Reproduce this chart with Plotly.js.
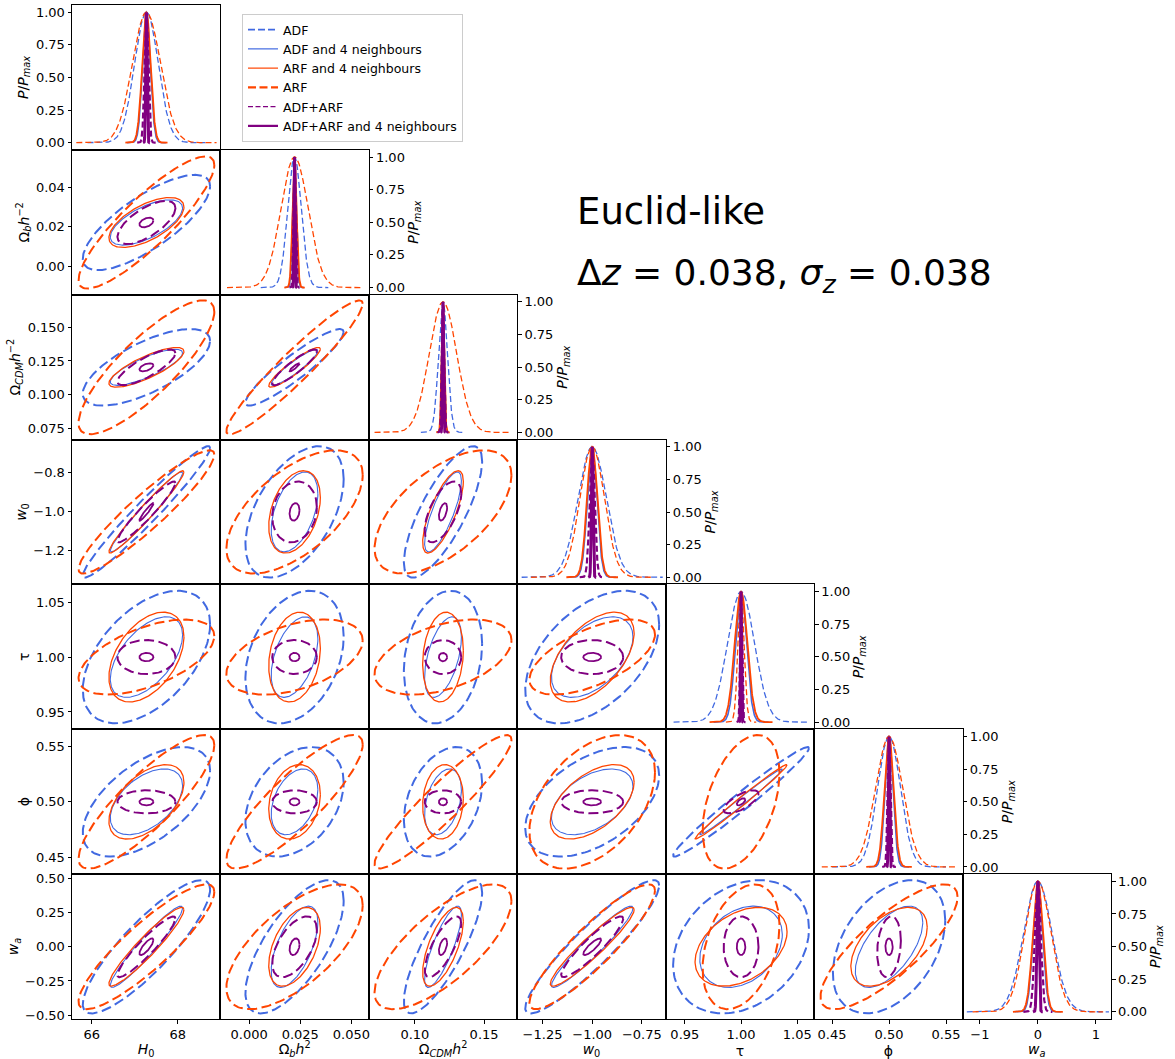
<!DOCTYPE html>
<html><head><meta charset="utf-8">
<script src="https://cdn.plot.ly/plotly-3.0.1.min.js"></script>
<style>body{margin:0;background:#fff}#chart{width:1175px;height:1059px}</style>
</head><body><div id="chart"></div>
<script>
// ---------------- DATA ----------------
const paramNames = ['H0', 'Omega_b h^2', 'Omega_CDM h^2', 'w0', 'tau', 'phi', 'wa'];
const fiducial = [67.27, 0.0222, 0.1203, -1.0, 1.0, 0.5, 0.0];
const caseNames = ['ADF', 'ADF and 4 neighbours', 'ARF and 4 neighbours', 'ARF', 'ADF+ARF', 'ADF+ARF and 4 neighbours'];

// 1D gaussian widths (per parameter, order as paramNames)
const sigADF  = [0.274, 0.0033, 0.0032, 0.071, 0.0120, 0.0100, 0.245];
const sigADFn = [0.090, 0.0009, 0.0009, 0.024, 0.0049, 0.0035, 0.080];
const sigARFn = [0.098, 0.0010, 0.00097, 0.026, 0.0056, 0.0040, 0.086];
const sigARF  = [0.326, 0.0066, 0.0099, 0.0615, 0.0027, 0.0118, 0.225];
const sigAA   = [0.043, 0.0005, 0.0008, 0.0126, 0.0008, 0.0012, 0.050];
const sigAAn  = [0.016, 0.00025, 0.0004, 0.004, 0.0004, 0.0005, 0.017];

// 2D contour half-extents (per parameter)
const extADF  = [1.48, 0.0240, 0.0283, 0.337, 0.0604, 0.0493, 0.487];
const extADFn = [0.84, 0.0114, 0.0133, 0.205, 0.0367, 0.0296, 0.297];
const extARFn = [0.872, 0.0126, 0.0147, 0.211, 0.0409, 0.0335, 0.288];
const extARF  = [1.578, 0.0333, 0.0495, 0.316, 0.0342, 0.0601, 0.456];
const extAA   = [0.674, 0.0109, 0.0132, 0.156, 0.0155, 0.0104, 0.222];
const extAAn  = [0.163, 0.00244, 0.0030, 0.045, 0.0038, 0.0032, 0.061];

// parameter pairs (x, y) and correlation coefficients per case
const pairs = [[0,1],[0,2],[0,3],[0,4],[0,5],[0,6],[1,2],[1,3],[1,4],[1,5],[1,6],[2,3],[2,4],[2,5],[2,6],[3,4],[3,5],[3,6],[4,5],[4,6],[5,6]];
const rhoADF  = [0.76,0.69,0.97,0.49,0.57,0.86,0.92,0.50,0.31,0.35,0.69,0.77,0.20,0.34,0.81,0.49,0.48,0.92,0.98,0.27,0.40];
const rhoADFn = [0.64,0.80,0.97,0.55,0.49,0.95,0.92,0.45,0.45,0.37,0.60,0.78,0.50,0.36,0.80,0.50,0.47,0.95,0.99,0.30,0.60];
const rhoARFn = [0.62,0.80,0.97,0.45,0.52,0.94,0.92,0.35,0.20,0.20,0.47,0.74,0.15,0.10,0.65,0.53,0.53,0.94,0.99,0.38,0.50];
const rhoARF  = [0.87,0.83,0.93,0.56,0.85,0.88,0.95,0.60,0.44,0.86,0.66,0.59,0.45,0.93,0.73,0.60,0.44,0.90,0.43,0.35,0.80];
const rhoAA   = [0.67,0.80,0.95,0.00,0.00,0.93,0.90,0.15,0.00,0.00,0.55,0.60,0.00,0.00,0.75,0.00,0.00,0.92,0.70,0.00,0.20];
const rhoAAn  = [0.40,0.50,0.95,0.00,0.00,0.80,0.90,0.20,0.00,0.00,0.30,0.50,0.00,0.00,0.50,0.00,0.00,0.85,0.60,0.00,0.00];

// labels and ticks
const xLabels = ['<i>H</i><sub>0</sub>', 'Ω<sub><i>b</i></sub><i>h</i><sup>2</sup>', 'Ω<sub><i>CDM</i></sub><i>h</i><sup>2</sup>', '<i>w</i><sub>0</sub>', 'τ', 'ϕ', '<i>w</i><sub><i>a</i></sub>'];
const yLabels = ['', 'Ω<sub><i>b</i></sub><i>h</i><sup>−2</sup>', 'Ω<sub><i>CDM</i></sub><i>h</i><sup>−2</sup>', '<i>w</i><sub>0</sub>', 'τ', 'ϕ', '<i>w</i><sub><i>a</i></sub>'];
const pLabel = '<i>P</i>/<i>P</i><sub><i>max</i></sub>';
const tickValsX = [[66,68],[0,0.025,0.05],[0.10,0.15],[-1.25,-1,-0.75],[0.95,1,1.05],[0.45,0.5,0.55],[-1,0,1]];
const tickTextX = [['66','68'],['0.000','0.025','0.050'],['0.10','0.15'],['−1.25','−1.00','−0.75'],['0.95','1.00','1.05'],['0.45','0.50','0.55'],['−1','0','1']];
const tickValsY = [[0],[0,0.02,0.04],[0.075,0.1,0.125,0.15],[-1.2,-1,-0.8],[0.95,1,1.05],[0.45,0.5,0.55],[-0.5,-0.25,0,0.25,0.5]];
const tickTextY = [['0'],['0.00','0.02','0.04'],['0.075','0.100','0.125','0.150'],['−1.2','−1.0','−0.8'],['0.95','1.00','1.05'],['0.45','0.50','0.55'],['−0.50','−0.25','0.00','0.25','0.50']];
const pTickVals = [0, 0.25, 0.5, 0.75, 1];
const pTickText = ['0.00', '0.25', '0.50', '0.75', '1.00'];
const titleLine1 = 'Euclid-like';
const titleLine2 = 'Δ<i>z</i> = 0.038, <i>σ<sub>z</sub></i> = 0.038';

// ---------------- LAYOUT CONFIG ----------------
const rangeX = [[65.54,68.99],[-0.014,0.0585],[0.0667,0.174],[-1.377,-0.630],[0.933,1.065],[0.4343,0.5645],[-1.298,1.26]];
const rangeY = [[0,1],[-0.0142,0.0588],[0.0669,0.174],[-1.372,-0.629],[0.9342,1.0662],[0.4349,0.5653],[-0.528,0.531]];
const pRange = [-0.055, 1.055];

const BLUE = '#4169E1', ORANGE = '#FF4500', PURPLE = '#800080';
const cases = [
  {sig: sigADF,  ext: extADF,  rho: rhoADF,  color: BLUE,   w2: 2.0, d2: '10px,4.5px', w1: 1.3, d1: '6px,3px', wl: 1.8, dl: '7px,3px'},
  {sig: sigADFn, ext: extADFn, rho: rhoADFn, color: BLUE,   w2: 1.1, d2: 'solid',      w1: 1.6, d1: 'solid',   wl: 1.2, dl: 'solid'},
  {sig: sigARFn, ext: extARFn, rho: rhoARFn, color: ORANGE, w2: 1.3, d2: 'solid',      w1: 1.8, d1: 'solid',   wl: 1.2, dl: 'solid'},
  {sig: sigARF,  ext: extARF,  rho: rhoARF,  color: ORANGE, w2: 2.0, d2: '10px,4.5px', w1: 1.3, d1: '6px,3px', wl: 2.2, dl: '8px,3.5px'},
  {sig: sigAA,   ext: extAA,   rho: rhoAA,   color: PURPLE, w2: 2.0, d2: '10px,4.5px', w1: 2.2, d1: '6px,3px', wl: 1.4, dl: '5px,2.5px'},
  {sig: sigAAn,  ext: extAAn,  rho: rhoAAn,  color: PURPLE, w2: 1.8, d2: 'solid',      w1: 3.0, d1: 'solid',   wl: 2.2, dl: 'solid'}
];

function gaussian(mu, s) {
  const xs = [], ys = [];
  const n = 241;
  for (let q = 0; q < n; q++) {
    const x = mu - 5 * s + 10 * s * q / (n - 1);
    xs.push(x);
    ys.push(Math.exp(-0.5 * ((x - mu) / s) ** 2));
  }
  return [xs, ys];
}
function ellipse(cx, cy, a, b, r) {
  const xs = [], ys = [];
  const n = 181, sq = Math.sqrt(1 - r * r);
  for (let q = 0; q < n; q++) {
    const t = 2 * Math.PI * q / (n - 1);
    xs.push(cx + a * Math.cos(t));
    ys.push(cy + b * (r * Math.cos(t) + sq * Math.sin(t)));
  }
  return [xs, ys];
}

const FONT = 'DejaVu Sans';
const TICK = 13, TITLE = 14;
const layout = {
  width: 1175, height: 1059,
  margin: {l: 72, r: 64, t: 5, b: 40},
  paper_bgcolor: 'white', plot_bgcolor: 'white',
  font: {family: FONT, size: TICK, color: 'black'},
  showlegend: true,
  legend: {
    x: (242 - 72) / 1039, y: 1 - (14 - 5) / 1014, xanchor: 'left', yanchor: 'top',
    bgcolor: 'rgba(255,255,255,0.9)', bordercolor: '#cccccc', borderwidth: 1,
    font: {family: FONT, size: 12.5, color: 'black'}, itemwidth: 30, tracegroupgap: 0
  },
  annotations: [
    {text: titleLine1, xref: 'paper', yref: 'paper', x: (575 - 72) / 1039, y: 1 - (211 - 5) / 1014,
     xanchor: 'left', yanchor: 'middle', showarrow: false, font: {family: FONT, size: 37, color: 'black'}},
    {text: titleLine2, xref: 'paper', yref: 'paper', x: (575 - 72) / 1039, y: 1 - (275 - 5) / 1014,
     xanchor: 'left', yanchor: 'middle', showarrow: false, font: {family: FONT, size: 36, color: 'black'}}
  ]
};

const traces = [];
const N = 7;
let k = 0;
for (let i = 0; i < N; i++) {
  for (let j = 0; j <= i; j++) {
    k++;
    const sfx = k === 1 ? '' : String(k);
    const xr = 'x' + sfx, yr = 'y' + sfx;
    const bottom = (i === N - 1), left = (j === 0), diag = (i === j);
    const base = {showline: true, mirror: true, linecolor: 'black', linewidth: 1, showgrid: false,
                  zeroline: false, ticklen: 3.5, tickwidth: 1, tickcolor: 'black', tickmode: 'array',
                  tickfont: {family: FONT, size: TICK, color: 'black'}, fixedrange: true};
    const xaxis = Object.assign({}, base, {
      domain: [j / N, (j + 1) / N], anchor: yr, range: rangeX[j],
      ticks: bottom ? 'outside' : '', showticklabels: bottom
    });
    if (bottom) {
      xaxis.tickvals = tickValsX[j];
      xaxis.ticktext = tickTextX[j];
      xaxis.title = {text: xLabels[j], font: {family: FONT, size: TITLE}, standoff: 7};
    } else {
      xaxis.tickvals = [];
    }
    const yaxis = Object.assign({}, base, {domain: [1 - (i + 1) / N, 1 - i / N], anchor: xr});
    if (diag) {
      Object.assign(yaxis, {range: pRange, tickvals: pTickVals, ticktext: pTickText, ticks: 'outside',
        showticklabels: true, side: i === 0 ? 'left' : 'right',
        title: {text: pLabel, font: {family: FONT, size: TITLE}, standoff: 4}});
      cases.forEach(c => {
        const g = gaussian(fiducial[i], c.sig[i]);
        traces.push({x: g[0], y: g[1], xaxis: xr, yaxis: yr, type: 'scatter', mode: 'lines',
          line: {color: c.color, width: c.w1, dash: c.d1}, showlegend: false, hoverinfo: 'skip'});
      });
    } else {
      Object.assign(yaxis, {range: rangeY[i], ticks: left ? 'outside' : '', showticklabels: left});
      if (left) {
        yaxis.tickvals = tickValsY[i];
        yaxis.ticktext = tickTextY[i];
        yaxis.title = {text: yLabels[i], font: {family: FONT, size: TITLE}, standoff: 3};
      } else {
        yaxis.tickvals = [];
      }
      const pIdx = pairs.findIndex(p => p[0] === j && p[1] === i);
      cases.forEach(c => {
        const e = ellipse(fiducial[j], fiducial[i], c.ext[j], c.ext[i], c.rho[pIdx]);
        traces.push({x: e[0], y: e[1], xaxis: xr, yaxis: yr, type: 'scatter', mode: 'lines',
          line: {color: c.color, width: c.w2, dash: c.d2}, showlegend: false, hoverinfo: 'skip'});
      });
    }
    layout['xaxis' + sfx] = xaxis;
    layout['yaxis' + sfx] = yaxis;
  }
}
// legend entries
cases.forEach((c, ci) => {
  traces.push({x: [null], y: [null], xaxis: 'x', yaxis: 'y', type: 'scatter', mode: 'lines',
    name: caseNames[ci], line: {color: c.color, width: c.wl, dash: c.dl}, showlegend: true, hoverinfo: 'skip'});
});

Plotly.newPlot('chart', traces, layout, {displayModeBar: false, staticPlot: true});
</script>
</body></html>
